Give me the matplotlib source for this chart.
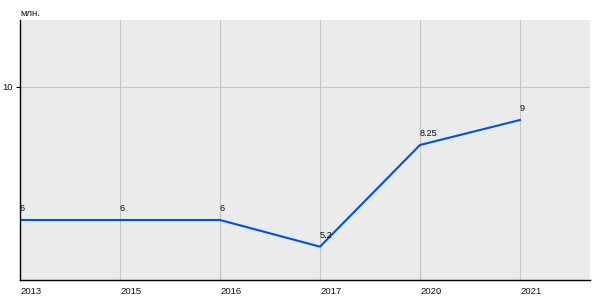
import matplotlib
matplotlib.use("Agg")
import matplotlib.pyplot as plt

# data
years = ["2013", "2015", "2016", "2017", "2020", "2021"]
values = [6, 6, 6, 5.2, 8.25, 9]
value_labels = ["6", "6", "6", "5.2", "8.25", "9"]
y_ticks = [10]
unit_label = "млн."

plt.rcParams['font.family'] = ['Liberation Sans', 'DejaVu Sans']

fig = plt.figure(figsize=(6, 3), dpi=100)
ax = fig.add_axes([20 / 600, 20 / 300, 570 / 600, 260 / 300])
ax.set_facecolor('#ebebeb')

x = list(range(len(years)))
ax.plot(x, values, color='#0050e6', linewidth=1.5, solid_joinstyle='miter')

for xi, v, lab in zip(x, values, value_labels):
    ax.annotate(lab, (xi, v), xytext=(0, 5), textcoords='offset points',
                ha='left', va='bottom', fontsize=6.6, color='#111111')

ax.set_xlim(0, 5.7)
ax.set_ylim(4.2, 12)
ax.set_xticks(x)
ax.set_xticklabels(years, ha='left')
ax.set_yticks(y_ticks)
ax.tick_params(axis='x', length=0, pad=5, labelsize=6.8, colors='#111111')
ax.tick_params(axis='y', length=3, width=0.8, pad=2, labelsize=6.8, colors='#111111')
ax.tick_params(axis='y', color='black')

ax.grid(True, color='#c4c4c4', linewidth=0.8)
ax.set_axisbelow(True)

for s in ['top', 'right']:
    ax.spines[s].set_visible(False)
for s in ['left', 'bottom']:
    ax.spines[s].set_color('black')
    ax.spines[s].set_linewidth(1.0)

fig.text(20 / 600, 1 - 13 / 300, unit_label, ha='left', va='center',
         fontsize=6.8, color='#111111')

fig.savefig("out.png", dpi=100, facecolor='white')
